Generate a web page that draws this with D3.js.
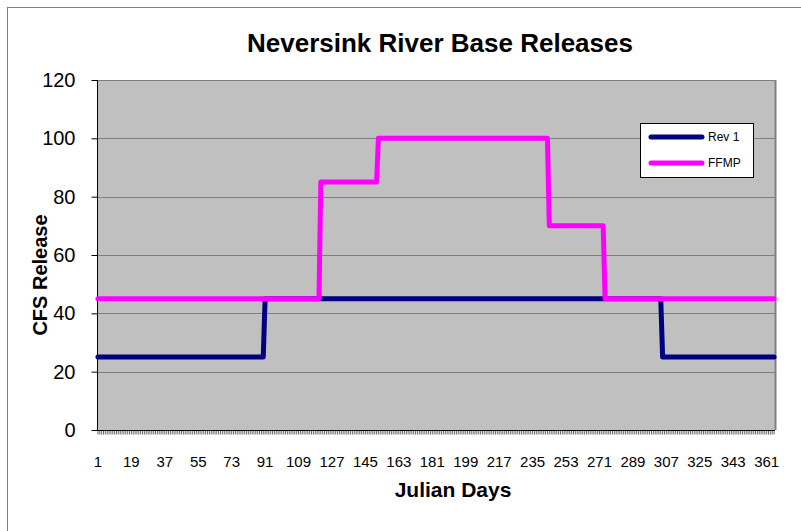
<!DOCTYPE html>
<html>
<head>
<meta charset="utf-8">
<script src="https://cdn.jsdelivr.net/npm/d3@7"></script>
<style>
  body { margin: 0; background: #fff; }
  svg { display: block; font-family: "Liberation Sans", Arial, sans-serif; }
</style>
</head>
<body>
<svg id="chart" width="801" height="531"></svg>
<script>
// ---- data ----
const days = d3.range(1, 366);                       // categories: Julian days 1..365
const tickLabels = d3.range(1, 366, 18);             // 1, 19, 37, ... 361
const yTicks = [0, 20, 40, 60, 80, 100, 120];

const rev1Days   = [1, 90, 91, 304, 305, 365];
const rev1Values = [25, 25, 45, 45, 25, 25];

const ffmpDays   = [1, 120, 121, 151, 152, 243, 244, 273, 274, 365];
const ffmpValues = [45, 45, 85, 85, 100, 100, 70, 70, 45, 45];

const seriesNames  = ["Rev 1", "FFMP"];
const seriesColors = ["#000080", "#FF00FF"];

// ---- layout ----
const svg = d3.select("#chart");
const pL = 97, pR = 775, pT = 80, pB = 430;

const x = d3.scaleBand().domain(days).range([pL, pR]).padding(0);
const xc = d => x(d) + x.bandwidth() / 2;
const y = d3.scaleLinear().domain([0, 120]).range([pB, pT]);

// outer chart border
svg.append("rect").attr("x", 7.5).attr("y", 7.5).attr("width", 800).attr("height", 530)
  .attr("fill", "#fff").attr("stroke", "#808080").attr("stroke-width", 1);

// plot area
svg.append("rect").attr("x", pL).attr("y", pT).attr("width", pR - pL).attr("height", pB - pT)
  .attr("fill", "#C0C0C0");

// gridlines
svg.append("g").selectAll("line").data(yTicks.filter(v => v > 0)).join("line")
  .attr("x1", pL).attr("x2", pR)
  .attr("y1", d => Math.round(y(d)) + 0.5).attr("y2", d => Math.round(y(d)) + 0.5)
  .attr("stroke", "#808080").attr("stroke-width", 1);

// right border (gray)
svg.append("line").attr("x1", pR + 0.5).attr("x2", pR + 0.5).attr("y1", pT).attr("y2", pB)
  .attr("stroke", "#808080").attr("stroke-width", 2);

// x axis dense ticks
const xTickAxis = d3.axisBottom(x).tickValues(days).tickSize(4).tickFormat("");
const gx = svg.append("g").attr("transform", `translate(0,${pB + 0.5})`).call(xTickAxis);
gx.select(".domain").attr("stroke", "#000").attr("d", `M${pL},0H${pR}`);
gx.selectAll(".tick line").attr("stroke", "#000").attr("stroke-width", 0.6);

// x labels
const xLabAxis = d3.axisBottom(x).tickValues(tickLabels).tickSize(0).tickPadding(26);
const gxl = svg.append("g").attr("transform", `translate(0,${pB})`).call(xLabAxis);
gxl.select(".domain").remove();
gxl.selectAll("text").attr("font-size", 15).attr("fill", "#000")
  .attr("font-family", "Liberation Sans, Arial, sans-serif");

// y axis
const yAxis = d3.axisLeft(y).tickValues(yTicks).tickSize(6).tickPadding(16);
const gy = svg.append("g").attr("transform", `translate(${pL + 0.5},0)`).call(yAxis);
gy.select(".domain").attr("stroke", "#000").attr("d", `M0,${pB}V${pT}`);
gy.selectAll(".tick line").attr("stroke", "#000");
gy.selectAll("text").attr("font-size", 20).attr("fill", "#000")
  .attr("font-family", "Liberation Sans, Arial, sans-serif");

// lines
const line = d3.line().x(d => xc(d[0])).y(d => y(d[1]));
const seriesData = [
  d3.zip(rev1Days, rev1Values),
  d3.zip(ffmpDays, ffmpValues)
];
svg.append("g").selectAll("path").data(seriesData).join("path")
  .attr("d", line).attr("fill", "none")
  .attr("stroke", (d, i) => seriesColors[i])
  .attr("stroke-width", 5).attr("stroke-linejoin", "round").attr("stroke-linecap", "round");

// title
svg.append("text").attr("x", 440).attr("y", 52).attr("text-anchor", "middle")
  .attr("font-size", 26).attr("font-weight", "bold").text("Neversink River Base Releases");

// axis titles
svg.append("text").attr("x", 453).attr("y", 497).attr("text-anchor", "middle")
  .attr("font-size", 21).attr("font-weight", "bold").text("Julian Days");
svg.append("text").attr("transform", "translate(47,275) rotate(-90)").attr("text-anchor", "middle")
  .attr("font-size", 20).attr("font-weight", "bold").text("CFS Release");

// legend
const lg = svg.append("g");
lg.append("rect").attr("x", 640.5).attr("y", 123.5).attr("width", 113).attr("height", 54)
  .attr("fill", "#fff").attr("stroke", "#000").attr("stroke-width", 1);
const ly = [137, 163];
seriesNames.forEach((name, i) => {
  lg.append("line").attr("x1", 651).attr("x2", 702).attr("y1", ly[i]).attr("y2", ly[i])
    .attr("stroke", seriesColors[i]).attr("stroke-width", 5).attr("stroke-linecap", "round");
  lg.append("text").attr("x", 708).attr("y", ly[i]).attr("dy", "0.35em")
    .attr("font-size", 12).text(name);
});
</script>
</body>
</html>
